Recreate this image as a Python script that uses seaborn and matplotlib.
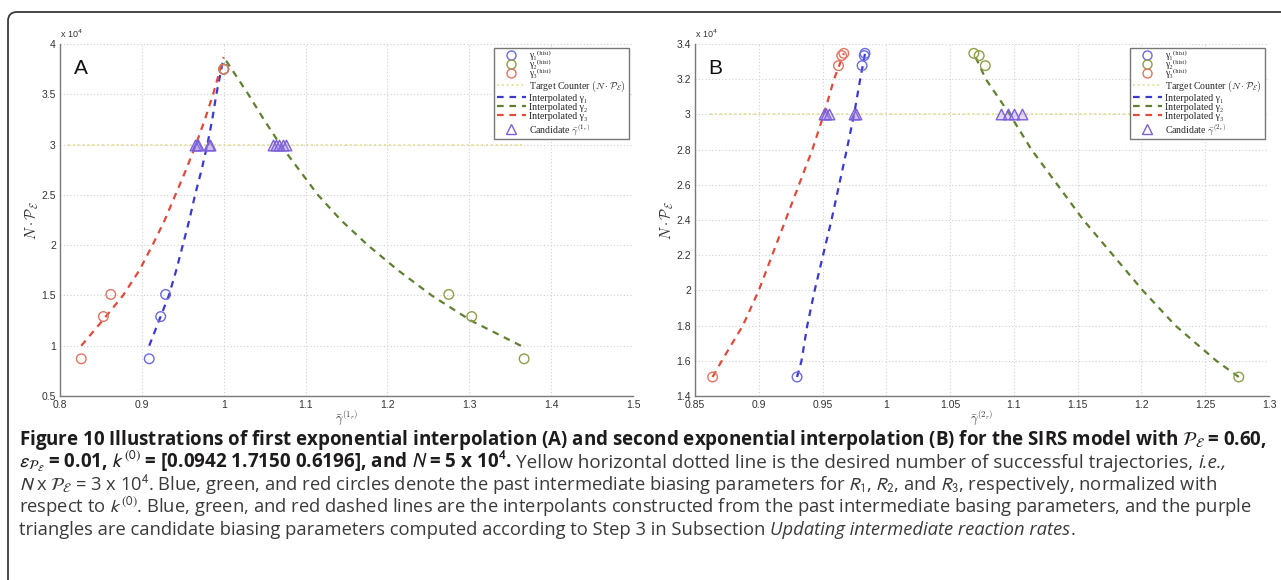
import matplotlib
matplotlib.use("Agg")
import matplotlib.pyplot as plt
import seaborn as sns
from matplotlib.lines import Line2D
from matplotlib.patches import FancyBboxPatch
from matplotlib.transforms import IdentityTransform

# === Panel A: first exponential interpolation (counts in units of 1e4) ===
hist_y_a = [0.87, 1.29, 1.51, 3.75]
hist_g1_a = [0.909, 0.923, 0.929, 1.000]
hist_g2_a = [1.367, 1.303, 1.275, 1.000]
hist_g3_a = [0.826, 0.853, 0.862, 1.000]

interp_y_a = [1.00, 1.25, 1.50, 1.75, 2.00, 2.25, 2.50, 2.75, 3.00, 3.25, 3.50, 3.87]
interp_g1_a = [0.909, 0.921, 0.933, 0.942, 0.950, 0.958, 0.965, 0.973, 0.980, 0.986, 0.991, 1.000]
interp_g3_a = [0.826, 0.852, 0.877, 0.897, 0.913, 0.928, 0.941, 0.954, 0.966, 0.977, 0.987, 1.000]
interp_g2_a = [1.363, 1.302, 1.254, 1.213, 1.176, 1.143, 1.115, 1.092, 1.069, 1.049, 1.030, 1.000]

target_a_x = [0.81, 1.366]
cand_a_x = [0.965, 0.967, 0.969, 0.982, 0.983, 1.060, 1.064, 1.068, 1.072, 1.076]

# === Panel B: second exponential interpolation ===
hist_y_b = [1.508, 3.277, 3.334, 3.347]
hist_g1_b = [0.930, 0.981, 0.9827, 0.9833]
hist_g2_b = [1.2763, 1.0776, 1.0728, 1.0686]
hist_g3_b = [0.8638, 0.9625, 0.965, 0.9667]

interp_y_b = [1.508, 1.6, 1.8, 2.0, 2.4, 2.8, 3.0, 3.2, 3.347]
interp_g1_b = [0.930, 0.9335, 0.938, 0.9438, 0.957, 0.969, 0.9747, 0.9795, 0.9833]
interp_g3_b = [0.8638, 0.871, 0.8875, 0.900, 0.921, 0.942, 0.951, 0.959, 0.9667]
interp_g2_b = [1.2763, 1.2587, 1.2266, 1.201, 1.1545, 1.1138, 1.0968, 1.078, 1.0686]

target_b_x = [0.862, 1.277]
cand_b_x = [0.951, 0.953, 0.955, 0.975, 0.976, 1.090, 1.095, 1.100, 1.106]
target_y = 3.0

# === Axis ticks ===
xticks_a = [0.8, 0.9, 1.0, 1.1, 1.2, 1.3, 1.4, 1.5]
yticks_a = [0.5, 1, 1.5, 2, 2.5, 3, 3.5, 4]
xticks_b = [0.85, 0.9, 0.95, 1.0, 1.05, 1.1, 1.15, 1.2, 1.25, 1.3]
yticks_b = [1.4, 1.6, 1.8, 2.0, 2.2, 2.4, 2.6, 2.8, 3.0, 3.2, 3.4]

# colours
c_blue_pt, c_blue_ln = "#6a6ae2", "#3a3ad0"
c_green_pt, c_green_ln = "#8c9f48", "#5f8030"
c_red_pt, c_red_ln = "#e07562", "#dc4b3c"
c_yellow = "#e6e29a"
c_purple = "#7d60d8"

sns.set_style("white")
plt.rcParams["font.family"] = ["Liberation Sans", "DejaVu Sans"]

W, H = 1281, 580
fig = plt.figure(figsize=(W / 100, H / 100), dpi=100)


def fmt(v):
    return "%g" % v


def draw_panel(ax, hy, g1, g2, g3, iy, ix1, ix2, ix3, tx, cx,
               xt, yt, letter, xlab):
    # target counter line
    sns.lineplot(x=tx, y=[target_y] * len(tx), ax=ax, color=c_yellow, lw=1.4,
                 linestyle=(0, (1, 1.5)), sort=False, estimator=None)
    # interpolants
    for xs, c in [(ix1, c_blue_ln), (ix2, c_green_ln), (ix3, c_red_ln)]:
        sns.lineplot(x=xs, y=iy, ax=ax, color=c, lw=1.6, linestyle=(0, (3, 2.6)),
                     sort=False, estimator=None)
    # past intermediate parameters
    for xs, c in [(g1, c_blue_pt), (g2, c_green_pt), (g3, c_red_pt)]:
        sns.scatterplot(x=xs, y=hy, ax=ax, marker="o", s=48, color=c,
                        facecolor="none", edgecolor=c, linewidth=1.0, zorder=4)
    # candidates
    sns.scatterplot(x=cx, y=[target_y] * len(cx), ax=ax, marker="^", s=58,
                    color=c_purple, facecolor=(0.62, 0.52, 0.92, 0.3),
                    edgecolor=c_purple, linewidth=1.0, zorder=5)

    ax.set_xlim(xt[0], xt[-1])
    ax.set_ylim(yt[0], yt[-1])
    ax.set_xticks(xt)
    ax.set_yticks(yt)
    ax.set_xticklabels([fmt(v) for v in xt])
    ax.set_yticklabels([fmt(v) for v in yt])
    ax.tick_params(direction="in", length=3, width=0.8, color="#777777",
                   labelsize=7.5, labelcolor="#333333", pad=3)
    ax.grid(True, linestyle=(0, (1, 2)), color="#cfcfcf", lw=0.8)
    for s in ["top", "right"]:
        ax.spines[s].set_visible(False)
    for s in ["left", "bottom"]:
        ax.spines[s].set_color("#7a7a7a")
        ax.spines[s].set_linewidth(1.0)

    ax.set_xlabel(r"$\bar{\gamma}^{(%s)}$" % xlab, fontsize=9, color="#333333",
                  labelpad=-1, math_fontfamily="cm")
    ax.set_ylabel(r"$N\cdot\mathcal{P}_{\mathcal{E}}$", fontsize=10.5, color="#333333",
                  labelpad=0, math_fontfamily="cm")
    ax.text(0.036, 0.929, letter, transform=ax.transAxes, fontsize=15,
            ha="center", va="center", color="#111111", family="Liberation Sans")
    ax.text(0.0, 1.012, r"x 10$^4$", transform=ax.transAxes, fontsize=6.5,
            ha="left", va="bottom", color="#333333")

    handles = [
        Line2D([], [], marker="o", ls="none", mfc="none", mec=c_blue_pt, ms=6.5),
        Line2D([], [], marker="o", ls="none", mfc="none", mec=c_green_pt, ms=6.5),
        Line2D([], [], marker="o", ls="none", mfc="none", mec=c_red_pt, ms=6.5),
        Line2D([], [], color=c_yellow, lw=1.4, ls=(0, (1, 1.5))),
        Line2D([], [], color=c_blue_ln, lw=1.6, ls=(0, (3, 2.6))),
        Line2D([], [], color=c_green_ln, lw=1.6, ls=(0, (3, 2.6))),
        Line2D([], [], color=c_red_ln, lw=1.6, ls=(0, (3, 2.6))),
        Line2D([], [], marker="^", ls="none", mfc="none", mec=c_purple, ms=6.5),
    ]
    sup = "\u207d\u02b0\u2071\u02e2\u1d57\u207e"
    labels = ["\u03b3\u2081" + sup, "\u03b3\u2082" + sup, "\u03b3\u2083" + sup,
              r"Target Counter $(N\cdot\mathcal{P}_{\mathcal{E}})$",
              "Interpolated \u03b3\u2081", "Interpolated \u03b3\u2082",
              "Interpolated \u03b3\u2083",
              "Candidate " + r"$\bar{\gamma}^{(%s)}$" % xlab]
    leg = ax.legend(handles, labels, loc="upper right", bbox_to_anchor=(0.993, 0.989),
                    borderaxespad=0, frameon=True, fancybox=False, framealpha=1,
                    edgecolor="#777777", labelspacing=0.0, handlelength=3.0,
                    handletextpad=0.3, borderpad=0.3,
                    prop={"family": ["Liberation Serif", "DejaVu Serif"], "size": 7.1,
                          "math_fontfamily": "cm"})
    leg.get_frame().set_linewidth(1.0)
    leg.set_zorder(10)


ax_a = fig.add_axes([60 / W, 1 - 396 / H, 573 / W, 352 / H])
draw_panel(ax_a, hist_y_a, hist_g1_a, hist_g2_a, hist_g3_a,
           interp_y_a, interp_g1_a, interp_g2_a, interp_g3_a,
           target_a_x, cand_a_x, xticks_a, yticks_a, "A", "1_r")

ax_b = fig.add_axes([695 / W, 1 - 396 / H, 574 / W, 352 / H])
draw_panel(ax_b, hist_y_b, hist_g1_b, hist_g2_b, hist_g3_b,
           interp_y_b, interp_g1_b, interp_g2_b, interp_g3_b,
           target_b_x, cand_b_x, xticks_b, yticks_b, "B", "2_r")

# === Border round the figure (top-left corner visible) ===
border = FancyBboxPatch((8, -60), 1400, H - 12 + 60, boxstyle="round,pad=0,rounding_size=9",
                        transform=IdentityTransform(), facecolor="none",
                        edgecolor="#3a3a3a", lw=1.3)
fig.patches.append(border)

# === Caption ===
cap_font = "Open Sans"
renderer = fig.canvas.get_renderer()

caption = [
    [("Figure 10 Illustrations of first exponential interpolation (A) and second exponential "
      "interpolation (B) for the SIRS model with $\\mathcal{P}_{\\mathcal{E}}$ = 0.60,", "b")],
    [("$\\epsilon_{\\mathcal{P}_{\\mathcal{E}}}$ = 0.01, $k^{(0)}$ = [0.0942 1.7150 0.6196], "
      "and $N$ = 5 x 10$^{\\mathbf{4}}$.", "b"),
     (" Yellow horizontal dotted line is the desired number of successful trajectories,", "r"),
     (" i.e.,", "i")],
    [("$N$ x $\\mathcal{P}_{\\mathcal{E}}$ = 3 x 10$^4$. Blue, green, and red circles denote the past "
      "intermediate biasing parameters for $R_1$, $R_2$, and $R_3$, respectively, normalized with", "r")],
    [("respect to $k^{(0)}$. Blue, green, and red dashed lines are the interpolants constructed "
      "from the past intermediate basing parameters, and the purple", "r")],
    [("triangles are candidate biasing parameters computed according to Step 3 in Subsection", "r"),
     (" Updating intermediate reaction rates", "i"), (".", "r")],
]
baselines = [444.5, 467.5, 490, 512.5, 535]
line_ends = [1266, 1265, 1230, 1226, 1077]
x0 = 19


def put_line(runs, y, size, keep=True):
    x = x0
    made = []
    for txt, st in runs:
        if txt.startswith(" "):
            x += size * 100 / 72 * 0.26
        t = fig.text(x, H - y, txt.lstrip(), transform=IdentityTransform(),
                     fontsize=size, family=cap_font,
                     fontweight="bold" if st == "b" else "normal",
                     fontstyle="italic" if st == "i" else "normal",
                     va="baseline", ha="left",
                     color="#1e1b1c" if st == "b" else "#3a3a3a",
                     math_fontfamily="stixsans")
        x = t.get_window_extent(renderer).x1
        made.append(t)
    if not keep:
        for t in made:
            t.remove()
    return x


# fit the caption to the widths its lines take in the box
base = 11.0
fits = []
for runs, y, end in zip(caption, baselines, line_ends):
    w = put_line(runs, y, base, keep=False) - x0
    fits.append(base * (end - x0) / w)
common = sum(fits[2:]) / 3
sizes = [fits[0], 0.5 * (fits[1] + common), common, common, common]

for runs, y, sz in zip(caption, baselines, sizes):
    put_line(runs, y, sz)

fig.savefig("out.png", dpi=100)
